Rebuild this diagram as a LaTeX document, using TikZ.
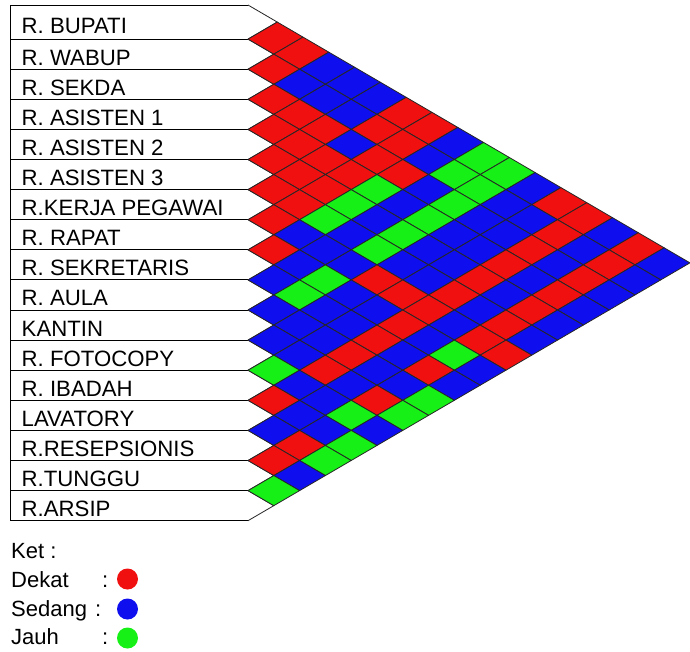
\documentclass[tikz,border=0pt]{standalone}
\usepackage{fontspec}
\setmainfont{Liberation Sans}
\definecolor{cR}{RGB}{240,16,16}
\definecolor{cB}{RGB}{14,14,238}
\definecolor{cG}{RGB}{22,240,22}
\begin{document}
\begin{tikzpicture}[x=1pt,y=-1pt,
  cell/.style={draw=black!85,line width=0.8pt,line join=round},
  lab/.style={anchor=base west,font=\fontsize{22.2}{22.2}\selectfont,inner sep=0pt},
  leg/.style={anchor=base west,font=\fontsize{22}{22}\selectfont,inner sep=0pt}]
\useasboundingbox (0,0) rectangle (690,651);
\def\L{248}
\def\K{0.857}
\def\Bl{{5,39.1,69.2,99.3,129.4,159.5,189.6,219.7,249.8,279.9,310,340.1,370.2,400.3,430.4,460.5,490.6,520.7}}
% label box
\draw[line width=0.9pt] (10,5) rectangle (\L,520.7);
\foreach \k in {1,...,16}{
  \pgfmathsetmacro\bk{\Bl[\k]}
  \draw[line width=0.9pt] (10,\bk) -- (\L,\bk);
}
\foreach \k/\t in {0/R. BUPATI,1/R. WABUP,2/R. SEKDA,3/R. ASISTEN 1,4/R. ASISTEN 2,5/R. ASISTEN 3,6/R.KERJA PEGAWAI,7/R. RAPAT,8/R. SEKRETARIS,9/R. AULA,10/KANTIN,11/R. FOTOCOPY,12/R. IBADAH,13/LAVATORY,14/R.RESEPSIONIS,15/R.TUNGGU,16/R.ARSIP}{
  \pgfmathsetmacro\ya{\Bl[\k]}
  \pgfmathsetmacro\yb{\Bl[\k+1]}
  \node[lab] (lab\k) at (21.5,{(\ya+\yb)/2+11}) {\t};
}
% white half cells on the diagonal
\foreach \k in {0,...,16}{
  \pgfmathsetmacro\ya{\Bl[\k]}
  \pgfmathsetmacro\yb{\Bl[\k+1]}
  \draw[cell,fill=white] (\L,\ya) -- ({\L+(\yb-\ya)*\K},{(\ya+\yb)/2}) -- (\L,\yb);
}
% relationship cells: row i, columns j = i+1 ... 16
\foreach \i/\row in {
 0/{R,R,B,B,B,R,R,B,G,G,B,R,R,B,R,B},
 1/{R,B,B,B,R,R,B,G,G,B,B,R,B,R,B},
 2/{R,R,R,B,R,R,B,G,B,B,R,B,R,B},
 3/{R,R,R,R,G,B,G,B,B,R,B,R,B},
 4/{R,R,R,G,B,G,B,B,R,B,R,B},
 5/{R,R,G,B,G,B,B,R,B,R,B},
 6/{R,B,B,B,R,R,R,B,R,R},
 7/{R,B,G,B,B,R,B,G,B},
 8/{B,G,B,B,R,B,R,B},
 9/{B,B,B,R,B,B,G},
 10/{B,B,R,B,R,G},
 11/{G,B,B,G,B},
 12/{R,B,B,G},
 13/{B,R,G},
 14/{R,B},
 15/{G}}{
  \foreach \c [count=\n] in \row {
    \pgfmathtruncatemacro\j{\i+\n}
    \pgfmathsetmacro\ba{\Bl[\i]}
    \pgfmathsetmacro\bb{\Bl[\i+1]}
    \pgfmathsetmacro\bc{\Bl[\j]}
    \pgfmathsetmacro\bd{\Bl[\j+1]}
    \filldraw[cell,fill=c\c]
      ({\L+(\bc-\ba)*\K},{(\ba+\bc)/2}) --
      ({\L+(\bd-\ba)*\K},{(\ba+\bd)/2}) --
      ({\L+(\bd-\bb)*\K},{(\bb+\bd)/2}) --
      ({\L+(\bc-\bb)*\K},{(\bb+\bc)/2}) -- cycle;
  }
}
% legend
\node[leg] (ket) at (11,558) {Ket :};
\node[leg] (dekat) at (11,587) {Dekat};
\node[leg] (dekatc) at (102,587) {:};
\node[leg] (sedang) at (11,616) {Sedang};
\node[leg] (sedangc) at (95,616) {:};
\node[leg] (jauh) at (11,644.5) {Jauh};
\node[leg] (jauhc) at (102,644.5) {:};
\fill[cR] (127.5,579) circle (10.5);
\fill[cB] (127.5,609) circle (10.5);
\fill[cG] (127.5,638) circle (10.5);
\end{tikzpicture}
\end{document}
